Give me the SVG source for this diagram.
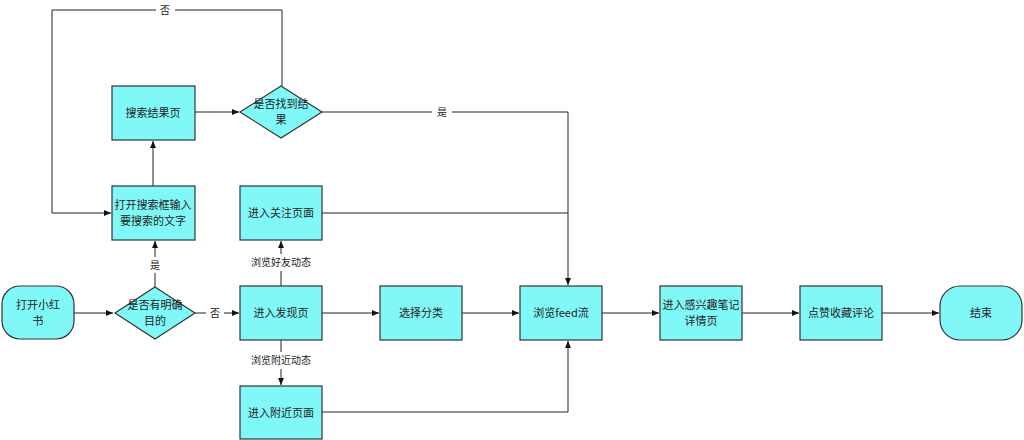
<svg xmlns="http://www.w3.org/2000/svg" width="1024" height="440" viewBox="0 0 1024 440">
<style>
.n{fill:#80f8f8;stroke:#333;stroke-width:1.2}
.t{font-family:"Noto Sans CJK SC",sans-serif;font-size:11px;fill:#222;text-anchor:middle}
.c{fill:none;stroke:#222;stroke-width:1}
.l{font-family:"Noto Sans CJK SC",sans-serif;font-size:10px;fill:#222;text-anchor:middle}
</style>
<defs><marker id="a" markerWidth="8" markerHeight="8" refX="7" refY="4" orient="auto" markerUnits="userSpaceOnUse"><path d="M0,1 L7,4 L0,7 Z" fill="#111"/></marker></defs>
<rect width="1024" height="440" fill="#fff"/>
<g id="connectors">
<path class="c" d="M74,313 H113" marker-end="url(#a)"/>
<path class="c" d="M195,313 H206 M224,313 H239" marker-end="url(#a)"/>
<path class="c" d="M155,287 V273 M155,257 V241" marker-end="url(#a)"/>
<path class="c" d="M153,186 V141" marker-end="url(#a)"/>
<path class="c" d="M195,112 H239" marker-end="url(#a)"/>
<path class="c" d="M282,86 V10 H175 M156,10 H52 V213 H111" marker-end="url(#a)"/>
<path class="c" d="M322,112 H432 M452,112 H568 V285" marker-end="url(#a)"/>
<path class="c" d="M322,213 H568"/>
<path class="c" d="M281,286 V271 M281,254 V241" marker-end="url(#a)"/>
<path class="c" d="M281,340 V352 M281,369 V385" marker-end="url(#a)"/>
<path class="c" d="M322,412 H568 V341" marker-end="url(#a)"/>
<path class="c" d="M322,313 H379" marker-end="url(#a)"/>
<path class="c" d="M462,313 H519" marker-end="url(#a)"/>
<path class="c" d="M602,313 H659" marker-end="url(#a)"/>
<path class="c" d="M742,313 H799" marker-end="url(#a)"/>
<path class="c" d="M882,313 H939" marker-end="url(#a)"/>
<text class="l" x="215" y="317">否</text>
<text class="l" x="155" y="269">是</text>
<text class="l" x="165" y="14">否</text>
<text class="l" x="442" y="116">是</text>
<text class="l" x="281" y="266">浏览好友动态</text>
<text class="l" x="281" y="364">浏览附近动态</text>
</g>
<g id="start"><rect class="n" x="2" y="286" width="72" height="53" rx="18"/><text class="t" x="38" y="309">打开小红</text><text class="t" x="38" y="325">书</text></g>
<g id="d1"><polygon class="n" points="155,287 195,313 155,339 115,313"/><text class="t" x="155" y="309">是否有明确</text><text class="t" x="155" y="325">目的</text></g>
<g id="discover"><rect class="n" x="240" y="286" width="82" height="54"/><text class="t" x="281" y="317">进入发现页</text></g>
<g id="category"><rect class="n" x="380" y="286" width="82" height="54"/><text class="t" x="421" y="317">选择分类</text></g>
<g id="feed"><rect class="n" x="520" y="286" width="82" height="54"/><text class="t" x="561" y="317">浏览feed流</text></g>
<g id="detail"><rect class="n" x="660" y="286" width="82" height="54"/><text class="t" x="701" y="309">进入感兴趣笔记</text><text class="t" x="701" y="325">详情页</text></g>
<g id="like"><rect class="n" x="800" y="286" width="82" height="54"/><text class="t" x="841" y="317">点赞收藏评论</text></g>
<g id="end"><rect class="n" x="940" y="286" width="82" height="54" rx="20"/><text class="t" x="981" y="317">结束</text></g>
<g id="search"><rect class="n" x="112" y="186" width="83" height="54"/><text class="t" x="153" y="209">打开搜索框输入</text><text class="t" x="153" y="225">要搜索的文字</text></g>
<g id="results"><rect class="n" x="112" y="86" width="83" height="54"/><text class="t" x="153" y="117">搜索结果页</text></g>
<g id="d2"><polygon class="n" points="281,86 322,112 281,138 240,112"/><text class="t" x="281" y="108">是否找到结</text><text class="t" x="281" y="124">果</text></g>
<g id="follow"><rect class="n" x="240" y="186" width="82" height="54"/><text class="t" x="281" y="217">进入关注页面</text></g>
<g id="nearby"><rect class="n" x="240" y="386" width="82" height="53"/><text class="t" x="281" y="417">进入附近页面</text></g>
</svg>
